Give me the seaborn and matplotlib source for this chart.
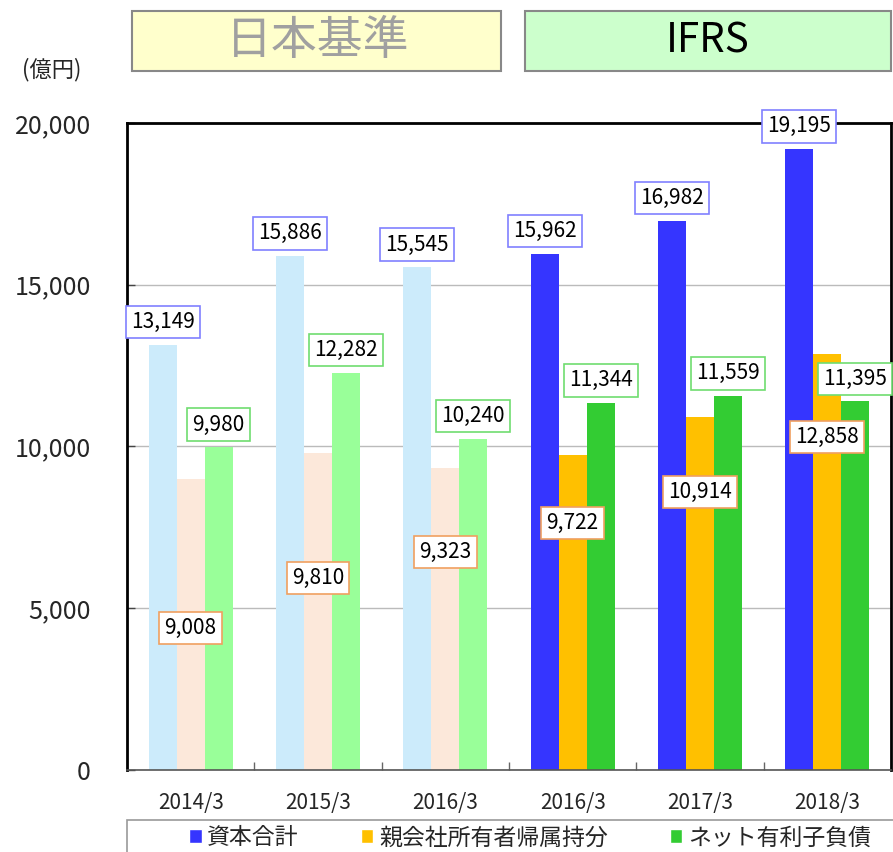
import numpy as np
import pandas as pd
import seaborn as sns
import matplotlib.pyplot as plt
from matplotlib.patches import Rectangle
from matplotlib.ticker import FuncFormatter, FixedLocator

periods = ['2014/3', '2015/3', '2016/3', '2016/3', '2017/3', '2018/3']
standards = ['日本基準', '日本基準', '日本基準', 'IFRS', 'IFRS', 'IFRS']
equity_total = [13149, 15886, 15545, 15962, 16982, 19195]
parent_equity = [9008, 9810, 9323, 9722, 10914, 12858]
net_debt = [9980, 12282, 10240, 11344, 11559, 11395]
series_names = ['資本合計', '親会社所有者帰属持分', 'ネット有利子負債']

bright = ['#3535FF', '#FFC000', '#33CC33']
pale = ['#CCEBFB', '#FCE8DA', '#99FF99']
label_edges = ['#8080FF', '#F0A060', '#70DD70']

sns.set_theme(style='white')
plt.rcParams['font.family'] = ['Noto Sans CJK JP', 'DejaVu Sans']

rows = []
for i in range(len(periods)):
    for name, vals in zip(series_names, [equity_total, parent_equity, net_debt]):
        rows.append({'slot': str(i), 'series': name, 'value': vals[i]})
df = pd.DataFrame(rows)

fig = plt.figure(figsize=(8.93, 8.52), dpi=100)
ax = fig.add_axes([127 / 893, 1 - 770 / 852, 764 / 893, 647 / 852])

sns.barplot(data=df, x='slot', y='value', hue='series', hue_order=series_names,
            palette=bright, saturation=1, width=0.66, gap=0, ax=ax, legend=True)

# pale colours for the Japanese-GAAP years
for k, cont in enumerate(ax.containers):
    for i, bar in enumerate(cont):
        bar.set_edgecolor('none')
        if standards[i] == '日本基準':
            bar.set_facecolor(pale[k])

ax.set_ylim(0, 20000)
ax.set_yticks(range(0, 20001, 5000))
ax.yaxis.set_major_formatter(FuncFormatter(lambda v, p: f'{int(v):,}'))
ax.set_xticks(range(len(periods)))
ax.set_xticklabels(periods, fontsize=15)
ax.set_xlim(-0.5, len(periods) - 0.5)
ax.xaxis.set_minor_locator(FixedLocator(np.arange(0.5, len(periods) - 0.5, 1)))
ax.tick_params(axis='y', labelsize=18, left=True, direction='in', length=6,
               width=1, color='#444444', pad=26)
ax.tick_params(axis='x', which='major', bottom=False, pad=10)
ax.tick_params(axis='x', which='minor', bottom=True, direction='in', length=6,
               width=1, color='#666666')
ax.set_xlabel('')
ax.set_ylabel('')
ax.grid(axis='y', color='#BBBBBB', linewidth=1)
ax.set_axisbelow(True)
for s in ax.spines.values():
    s.set_color('black')
    s.set_linewidth(2)
ax.spines['bottom'].set_linewidth(1.2)
ax.spines['bottom'].set_color('#555555')

# value labels
orange_label_y = [4390, 5935, 6740, 7635, 8594, 10294]
for k, cont in enumerate(ax.containers):
    for i, bar in enumerate(cont):
        x = bar.get_x() + bar.get_width() / 2
        h = bar.get_height()
        if k == 1:
            y = orange_label_y[i]
        else:
            y = h + 700
        ax.text(x, y, f'{int(h):,}', ha='center', va='center', fontsize=15,
                color='black', zorder=5, clip_on=False,
                bbox=dict(boxstyle='square,pad=0.25', facecolor='white',
                          edgecolor=label_edges[k], linewidth=1.2))

# legend below the axes
handles, labels = ax.get_legend_handles_labels()
ax.get_legend().remove()
fig.add_artist(Rectangle((127 / 893, -0.05), 0.9, 0.05 + 1 - 820 / 852,
                         transform=fig.transFigure, facecolor='white',
                         edgecolor='#999999', linewidth=1.2))
leg = fig.legend(handles, labels, loc='center', ncol=3,
                 bbox_to_anchor=(530 / 893, 1 - 838 / 852),
                 fontsize=16.5, frameon=False,
                 handlelength=0.55, handleheight=0.55, handletextpad=0.25,
                 borderpad=0.0, columnspacing=2.7)

# header boxes
fig.add_artist(Rectangle((132 / 893, 1 - 71 / 852), 369 / 893, 60 / 852,
                         transform=fig.transFigure, facecolor='#FFFFCC',
                         edgecolor='#888888', linewidth=1.5))
fig.text(318 / 893, 1 - 41 / 852, '日本基準', ha='center', va='center',
         fontsize=33, color='#A0A0A0')
fig.add_artist(Rectangle((525 / 893, 1 - 71 / 852), 366 / 893, 60 / 852,
                         transform=fig.transFigure, facecolor='#CCFFCC',
                         edgecolor='#888888', linewidth=1.5))
fig.text(708 / 893, 1 - 41 / 852, 'IFRS', ha='center', va='center',
         fontsize=29, color='black')

fig.text(52 / 893, 1 - 70 / 852, '(億円)', ha='center', va='center', fontsize=16)

fig.savefig('out.png', dpi=100)
